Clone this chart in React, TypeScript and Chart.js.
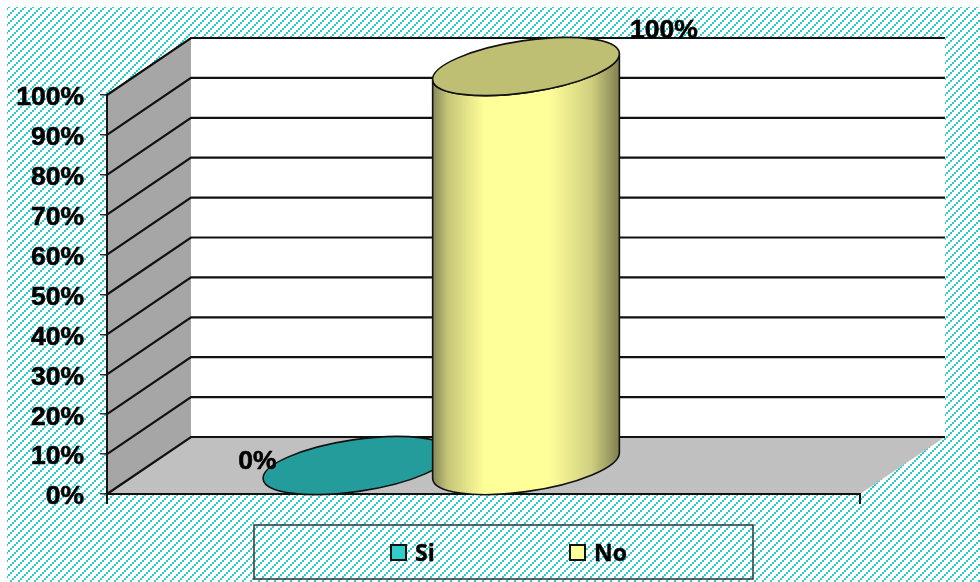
import React, { useEffect, useRef } from "react";
import { Chart, registerables } from "chart.js";

Chart.register(...registerables);

// Survey shares by answer
const answers = ["Si", "No"];
const shares = [0, 100];
const answerPositions = [1, 2];
const swatchColors = ["#33CCCC", "#FFFF99"];
const topColors = ["#259C9C", "#BFBF73"];
const percentTicks = [0, 10, 20, 30, 40, 50, 60, 70, 80, 90, 100];

// Oblique projection of the chart's box
const DEPTH_X = 84;
const DEPTH_Y = -57;
const ELLIPSE_A = 94.3;
const ELLIPSE_B = 25.9;
const ELLIPSE_TILT = (8.4 * Math.PI) / 180;
const LABEL_FONT = "bold 26.5px 'Liberation Sans', Arial, sans-serif";
const LEGEND_FONT = "bold 23px 'Open Sans', sans-serif";
const labelOffsets = [
  { x: -99, y: -4 },
  { x: 138, y: -36 },
];

// Upward diagonal hatch built from corner-touching squares
function hatchTile(): HTMLCanvasElement {
  const tile = document.createElement("canvas");
  tile.width = 8;
  tile.height = 8;
  const c = tile.getContext("2d")!;
  c.fillStyle = "#ffffff";
  c.fillRect(0, 0, 8, 8);
  c.fillStyle = "#2ECBCB";
  for (let j = 0; j < 4; j++) {
    c.fillRect(6 - 2 * j, 2 * j, 2, 2);
  }
  return tile;
}

const boxPlugin = {
  id: "box3d",
  beforeDraw(chart: any) {
    const { ctx, chartArea: area, scales } = chart;
    const { left, right, top, bottom } = area;
    ctx.save();

    ctx.fillStyle = "#ffffff";
    ctx.fillRect(0, 0, chart.width, chart.height);
    ctx.fillStyle = ctx.createPattern(hatchTile(), "repeat");
    ctx.fillRect(7, 7, chart.width - 7, chart.height - 7);

    // Back wall
    ctx.fillStyle = "#ffffff";
    ctx.fillRect(left + DEPTH_X, top + DEPTH_Y, right - left + 1, bottom - top);

    // Side wall
    ctx.fillStyle = "#A6A6A6";
    ctx.beginPath();
    ctx.moveTo(left, top);
    ctx.lineTo(left + DEPTH_X, top + DEPTH_Y);
    ctx.lineTo(left + DEPTH_X, bottom + DEPTH_Y);
    ctx.lineTo(left, bottom);
    ctx.closePath();
    ctx.fill();

    // Floor
    ctx.fillStyle = "#C0C0C0";
    ctx.beginPath();
    ctx.moveTo(left, bottom);
    ctx.lineTo(right, bottom);
    ctx.lineTo(right + DEPTH_X + 1, bottom + DEPTH_Y);
    ctx.lineTo(left + DEPTH_X, bottom + DEPTH_Y);
    ctx.closePath();
    ctx.fill();

    // Gridlines wrap from the front edge along the side wall and across the back
    ctx.strokeStyle = "#111111";
    ctx.lineWidth = 2.2;
    for (const tick of scales.y.ticks) {
      const y = scales.y.getPixelForValue(tick.value);
      ctx.beginPath();
      ctx.moveTo(left, y);
      ctx.lineTo(left + DEPTH_X, y + DEPTH_Y);
      ctx.lineTo(right + DEPTH_X + 1, y + DEPTH_Y);
      ctx.stroke();
    }
    ctx.restore();
  },
  afterDatasetsDraw(chart: any) {
    const { ctx, scales } = chart;
    ctx.save();
    const t0 = Math.atan((ELLIPSE_B / ELLIPSE_A) * Math.tan(ELLIPSE_TILT));
    const halfW = Math.hypot(ELLIPSE_A * Math.cos(ELLIPSE_TILT), ELLIPSE_B * Math.sin(ELLIPSE_TILT));
    const sideDy = -(ELLIPSE_A * Math.cos(t0) * Math.sin(ELLIPSE_TILT) - ELLIPSE_B * Math.sin(t0) * Math.cos(ELLIPSE_TILT));

    const anchors = chart.data.datasets.map((ds: any) => ({
      cx: scales.x.getPixelForValue(ds.data[0].x) + DEPTH_X / 2,
      topY: scales.y.getPixelForValue(ds.data[0].y) + DEPTH_Y / 2,
      baseY: scales.y.getPixelForValue(0) + DEPTH_Y / 2,
    }));

    anchors.forEach(({ cx, topY, baseY }: any, i: number) => {
      ctx.strokeStyle = "#111111";
      ctx.lineWidth = 1.6;

      if (baseY - topY > 1) {
        const g = ctx.createLinearGradient(cx - halfW, 0, cx + halfW, 0);
        g.addColorStop(0, "#85855A");
        g.addColorStop(0.08, "#C5C578");
        g.addColorStop(0.28, "#FFFF99");
        g.addColorStop(0.62, "#FFFF99");
        g.addColorStop(0.85, "#CFCF80");
        g.addColorStop(1, "#7F7F52");
        ctx.fillStyle = g;
        ctx.beginPath();
        ctx.ellipse(cx, baseY, ELLIPSE_A, ELLIPSE_B, -ELLIPSE_TILT, t0, t0 + Math.PI, false);
        ctx.lineTo(cx - halfW, topY - sideDy);
        ctx.ellipse(cx, topY, ELLIPSE_A, ELLIPSE_B, -ELLIPSE_TILT, t0 + Math.PI, t0, true);
        ctx.closePath();
        ctx.fill();
        ctx.stroke();
      }

      ctx.fillStyle = topColors[i];
      ctx.beginPath();
      ctx.ellipse(cx, topY, ELLIPSE_A, ELLIPSE_B, -ELLIPSE_TILT, 0, Math.PI * 2);
      ctx.fill();
      ctx.stroke();
    });

    // The short bar sits behind the tall one, so value labels go on afterwards
    chart.data.datasets.forEach((ds: any, i: number) => {
      ctx.font = LABEL_FONT;
      ctx.fillStyle = "#000000";
      ctx.strokeStyle = "#000000";
      ctx.lineWidth = 0.6;
      ctx.textAlign = "center";
      ctx.textBaseline = "middle";
      const tx = anchors[i].cx + labelOffsets[i].x;
      const ty = anchors[i].topY + labelOffsets[i].y;
      ctx.fillText(`${ds.data[0].y}%`, tx, ty);
      ctx.strokeText(`${ds.data[0].y}%`, tx, ty);
    });

    // Framed legend below the plot
    const box = { x: 254, y: 525, w: 499, h: 54 };
    ctx.strokeStyle = "#333333";
    ctx.lineWidth = 1.5;
    ctx.strokeRect(box.x, box.y, box.w, box.h);
    const itemX = [391, 570];
    chart.data.datasets.forEach((ds: any, i: number) => {
      ctx.fillStyle = swatchColors[i];
      ctx.fillRect(itemX[i], 545, 15, 15);
      ctx.strokeStyle = "#111111";
      ctx.lineWidth = 2;
      ctx.strokeRect(itemX[i], 545, 15, 15);
      ctx.font = LEGEND_FONT;
      ctx.fillStyle = "#000000";
      ctx.strokeStyle = "#000000";
      ctx.lineWidth = 0.4;
      ctx.textAlign = "left";
      ctx.textBaseline = "alphabetic";
      ctx.fillText(ds.label, itemX[i] + 24, 561);
      ctx.strokeText(ds.label, itemX[i] + 24, 561);
    });
    ctx.restore();
  },
};

export default function App() {
  const ref = useRef<HTMLCanvasElement>(null);

  useEffect(() => {
    const chart = new Chart(ref.current!, {
      type: "bar",
      data: {
        datasets: answers.map((label, i) => ({
          label,
          data: [{ x: answerPositions[i], y: shares[i] }],
          backgroundColor: "transparent",
          borderWidth: 0,
          grouped: false,
        })),
      },
      plugins: [boxPlugin],
      options: {
        responsive: false,
        animation: false,
        events: [],
        layout: { padding: { top: 95, right: 120, left: 0, bottom: 0 } },
        plugins: {
          legend: { display: false },
          title: { display: false },
          tooltip: { enabled: false },
        },
        scales: {
          x: {
            type: "linear",
            offset: false,
            min: -0.224,
            max: 4.218,
            afterBuildTicks: (scale: any) => {
              scale.ticks = [{ value: scale.min }, { value: scale.max }];
            },
            afterFit: (scale: any) => {
              scale.height = 88;
            },
            ticks: { display: false },
            grid: { offset: false, drawOnChartArea: false, drawTicks: true, tickLength: 10, color: "#111111", lineWidth: 2 },
            border: { display: true, color: "#111111", width: 2 },
          },
          y: {
            min: 0,
            max: 100,
            afterBuildTicks: (scale: any) => {
              scale.ticks = percentTicks.map((value) => ({ value }));
            },
            afterFit: (scale: any) => {
              scale.width = 107;
            },
            ticks: {
              autoSkip: false,
              padding: 16,
              labelOffset: 3,
              color: "#000000",
              textStrokeColor: "#000000",
              textStrokeWidth: 0.6,
              font: { family: "'Liberation Sans', Arial, sans-serif", size: 26.5, weight: "bold" },
              callback: (value: any) => `${value}%`,
            },
            grid: { drawOnChartArea: false, drawTicks: true, tickLength: 7, color: "#333333", lineWidth: 1.5 },
            border: { display: true, color: "#111111", width: 2 },
          },
        },
      },
    } as any);
    return () => chart.destroy();
  }, []);

  return (
    <div style={{ position: "fixed", left: 0, top: 0, width: 980, height: 582 }}>
      <canvas ref={ref} width={980} height={582} style={{ display: "block" }} />
    </div>
  );
}
